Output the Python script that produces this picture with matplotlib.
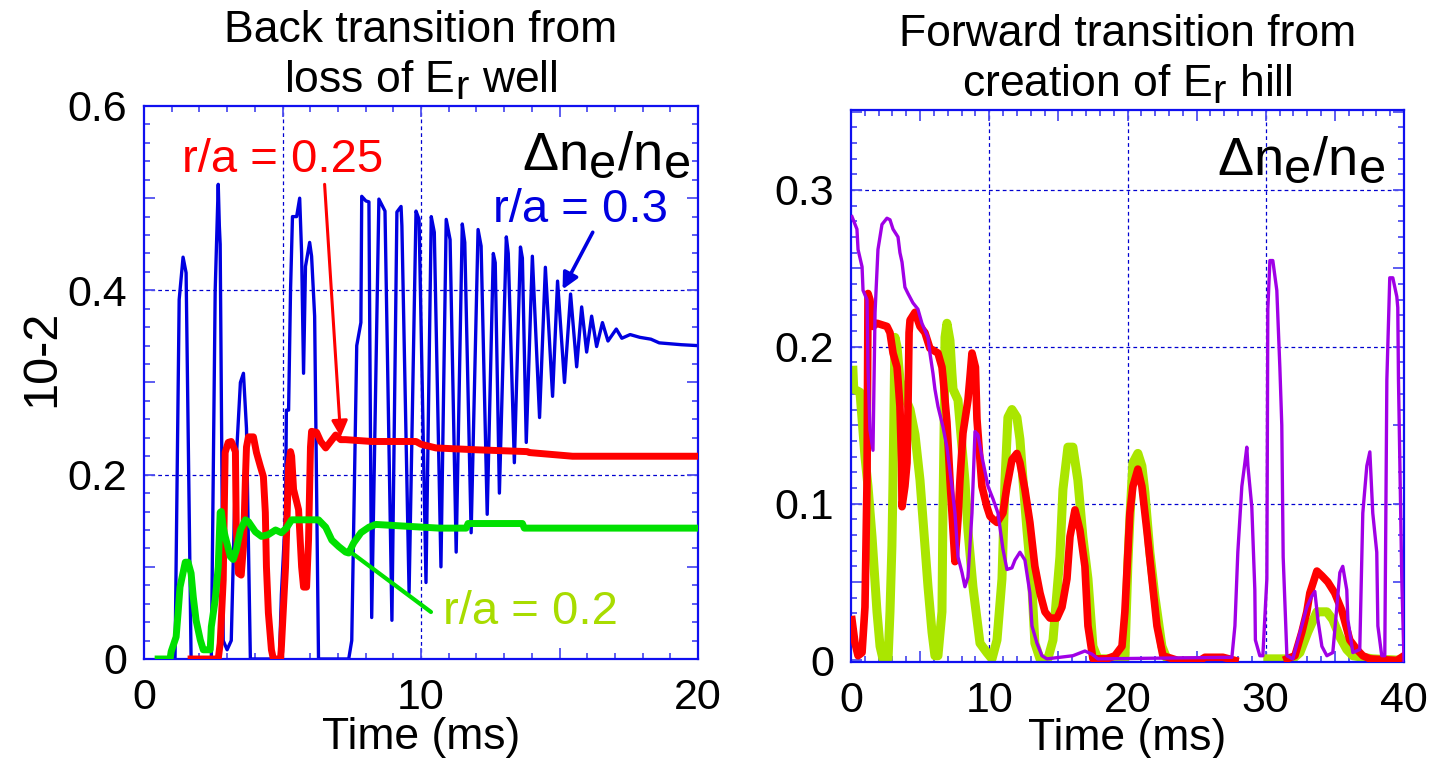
import numpy as np
import matplotlib
matplotlib.use("Agg")
import matplotlib.pyplot as plt
from matplotlib.ticker import MultipleLocator, FuncFormatter
import matplotlib._mathtext as mt

# subscripts in the original are nearly full size
mt.SHRINK_FACTOR = 0.9

plt.rcParams['font.family'] = ['Liberation Sans', 'DejaVu Sans']
plt.rcParams['mathtext.fontset'] = 'custom'
plt.rcParams['mathtext.rm'] = 'Liberation Sans'
plt.rcParams['mathtext.it'] = 'Liberation Sans'
plt.rcParams['mathtext.default'] = 'regular'

# ---- left panel: back transition (time in ms, dn/n in 10^-2) ----
blue_r03 = [
    (0.6, 0), (1.12, 0), (1.27, 0.39), (1.41, 0.436), (1.52, 0.419), (1.70, 0),
    (2.43, 0), (2.57, 0.40), (2.68, 0.515), (2.72, 0.47), (2.75, 0.45), (2.86, 0.02),
    (3.0, 0.01), (3.15, 0.02), (3.30, 0.20), (3.48, 0.30), (3.59, 0.31), (3.70, 0.25),
    (3.84, 0), (4.89, 0), (4.96, 0.07), (5.11, 0.16), (5.14, 0.27), (5.22, 0.27),
    (5.29, 0.40), (5.36, 0.48), (5.51, 0.48), (5.62, 0.50), (5.69, 0.44), (5.76, 0.31),
    (5.83, 0.426), (5.98, 0.452), (6.05, 0.437), (6.16, 0.372), (6.30, 0), (7.39, 0),
    (7.50, 0.02), (7.68, 0.34), (7.83, 0.365), (7.86, 0.502), (8.01, 0.497), (8.12, 0.496),
    (8.22, 0.045), (8.48, 0.499), (8.70, 0.486), (8.95, 0.042), (9.13, 0.485), (9.28, 0.491),
    (9.31, 0.47), (9.57, 0.072), (9.82, 0.486), (9.93, 0.477), (10.18, 0.083),
    (10.37, 0.48), (10.48, 0.463), (10.72, 0.10), (10.91, 0.477), (11.05, 0.455),
    (11.27, 0.116), (11.49, 0.472), (11.58, 0.452), (11.81, 0.137), (12.06, 0.466),
    (12.17, 0.448), (12.39, 0.157), (12.61, 0.44), (12.68, 0.43), (12.83, 0.18),
    (13.08, 0.458), (13.15, 0.44), (13.37, 0.213), (13.59, 0.447), (13.66, 0.435),
    (13.80, 0.235), (14.02, 0.437), (14.28, 0.262), (14.49, 0.425), (14.75, 0.285),
    (14.93, 0.41), (15.18, 0.30), (15.40, 0.396), (15.62, 0.317), (15.80, 0.382),
    (15.98, 0.333), (16.16, 0.372), (16.34, 0.339), (16.55, 0.365), (16.75, 0.345),
    (17.05, 0.358), (17.25, 0.348), (17.55, 0.352), (17.9, 0.349), (18.3, 0.347),
    (18.6, 0.343), (19.4, 0.341), (20.0, 0.34),
]

red_r025 = [
    (1.70, 0), (2.68, 0), (2.75, 0.017), (2.86, 0.086), (2.93, 0.224), (3.04, 0.235),
    (3.15, 0.236), (3.30, 0.225), (3.33, 0.143), (3.41, 0.093), (3.51, 0.091),
    (3.59, 0.122), (3.66, 0.195), (3.70, 0.23), (3.77, 0.241), (3.95, 0.241),
    (4.06, 0.224), (4.20, 0.209), (4.31, 0.198), (4.38, 0.159), (4.42, 0.10),
    (4.49, 0.05), (4.60, 0.01), (4.67, 0), (4.93, 0), (4.96, 0.013), (5.11, 0.10),
    (5.22, 0.209), (5.29, 0.225), (5.33, 0.22), (5.40, 0.184), (5.58, 0.162),
    (5.69, 0.10), (5.76, 0.078), (5.87, 0.078), (5.94, 0.129), (6.01, 0.23),
    (6.05, 0.247), (6.23, 0.246), (6.38, 0.236), (6.56, 0.229), (6.74, 0.236),
    (6.92, 0.243), (7.10, 0.238), (7.28, 0.238), (8.22, 0.236), (9.82, 0.236),
    (10.0, 0.233), (10.54, 0.229), (12.0, 0.227), (13.84, 0.225), (13.91, 0.224),
    (15.47, 0.22), (20.0, 0.22),
]

green_r02 = [
    (0.51, 0), (0.94, 0), (0.98, 0.008), (1.16, 0.024), (1.23, 0.05), (1.30, 0.078),
    (1.49, 0.105), (1.59, 0.105), (1.70, 0.093), (1.78, 0.067), (1.88, 0.042),
    (2.03, 0.021), (2.14, 0.01), (2.39, 0.01), (2.43, 0.035), (2.57, 0.064),
    (2.68, 0.10), (2.75, 0.159), (2.79, 0.16), (2.86, 0.143), (2.93, 0.133),
    (3.12, 0.111), (3.22, 0.108), (3.33, 0.118), (3.48, 0.14), (3.66, 0.151),
    (3.77, 0.149), (4.02, 0.138), (4.24, 0.133), (4.49, 0.135), (4.75, 0.14),
    (4.96, 0.137), (5.14, 0.142), (5.33, 0.151), (6.30, 0.151), (6.56, 0.143),
    (6.78, 0.129), (7.03, 0.122), (7.28, 0.116), (7.39, 0.115), (7.57, 0.126),
    (7.83, 0.137), (8.12, 0.143), (8.37, 0.146), (10.65, 0.142), (11.63, 0.142),
    (11.70, 0.147), (13.66, 0.147), (13.73, 0.142), (20.0, 0.142),
]

# ---- right panel: forward transition ----
purple_fw = [
    (0.07, 0.283), (0.43, 0.275), (0.51, 0.262), (0.80, 0.251), (0.87, 0.236),
    (1.16, 0.230), (1.23, 0.187), (1.37, 0.147), (1.59, 0.134), (1.74, 0.222),
    (1.95, 0.262), (2.24, 0.278), (2.60, 0.282), (2.82, 0.281), (3.04, 0.275),
    (3.40, 0.270), (3.54, 0.260), (3.69, 0.254), (3.90, 0.238), (4.12, 0.234),
    (4.48, 0.228), (4.84, 0.224), (5.13, 0.215), (5.57, 0.206), (5.71, 0.196),
    (5.93, 0.183), (6.07, 0.173), (6.29, 0.162), (6.65, 0.149), (6.94, 0.136),
    (7.30, 0.111), (7.52, 0.094), (7.74, 0.066), (8.03, 0.056), (8.24, 0.047),
    (8.46, 0.053), (8.75, 0.094), (8.97, 0.146), (9.18, 0.144), (9.47, 0.130),
    (9.91, 0.111), (10.27, 0.103), (10.63, 0.094), (10.99, 0.071), (11.28, 0.058),
    (11.64, 0.059), (11.86, 0.064), (12.22, 0.069), (12.58, 0.064), (12.94, 0.043),
    (13.09, 0.022), (13.45, 0.011), (13.81, 0.003), (14.17, 0.001), (16.05, 0.003),
    (16.92, 0.006), (17.43, 0.004), (17.86, 0.001), (27.55, 0.002), (27.77, 0.022),
    (27.98, 0.069), (28.27, 0.111), (28.49, 0.126), (28.63, 0.136), (28.71, 0.124),
    (28.99, 0.098), (29.21, 0.045), (29.25, 0.013), (29.57, 0.003), (29.79, 0.003),
    (30.08, 0.052), (30.15, 0.224), (30.30, 0.255), (30.51, 0.255), (30.80, 0.236),
    (31.02, 0.187), (31.16, 0.15), (31.26, 0.066), (31.53, 0.003), (31.96, 0.001),
    (32.97, 0.034), (33.33, 0.041), (33.55, 0.044), (33.77, 0.026), (34.06, 0.009),
    (34.42, 0.003), (34.85, 0.005), (35.14, 0.034), (35.36, 0.056), (35.57, 0.060),
    (35.86, 0.045), (35.94, 0.026), (36.30, 0.005), (36.80, 0.007), (37.02, 0.094),
    (37.31, 0.124), (37.53, 0.133), (37.74, 0.094), (38.03, 0.069), (38.11, 0.022),
    (38.39, 0.003), (38.61, 0.003), (38.76, 0.179), (38.97, 0.244), (39.19, 0.244),
    (39.48, 0.232), (39.55, 0.225), (39.60, 0.179), (39.84, 0.052), (40.0, 0.0),
]

red_fw = [
    (0.07, 0.026), (0.29, 0.011), (0.51, 0.003), (0.80, 0.005), (1.01, 0.034),
    (1.16, 0.115), (1.23, 0.234), (1.37, 0.230), (1.59, 0.213), (1.88, 0.215),
    (2.60, 0.213), (2.82, 0.209), (3.04, 0.196), (3.33, 0.187), (3.40, 0.179),
    (3.54, 0.162), (3.66, 0.126), (3.69, 0.098), (3.90, 0.111), (4.05, 0.126),
    (4.12, 0.16), (4.20, 0.209), (4.27, 0.217), (4.63, 0.222), (4.99, 0.213),
    (5.35, 0.209), (5.71, 0.199), (6.29, 0.196), (6.58, 0.187), (6.65, 0.181),
    (6.94, 0.152), (7.16, 0.115), (7.38, 0.083), (7.52, 0.063), (7.74, 0.090),
    (7.88, 0.115), (8.10, 0.145), (8.46, 0.166), (8.60, 0.18), (8.75, 0.196),
    (9.0, 0.187), (9.11, 0.154), (9.47, 0.111), (9.83, 0.098), (10.05, 0.092),
    (10.27, 0.090), (10.56, 0.088), (10.99, 0.094), (11.28, 0.111), (11.64, 0.128),
    (12.00, 0.132), (12.22, 0.126), (12.58, 0.109), (12.94, 0.088), (13.30, 0.060),
    (13.67, 0.043), (14.03, 0.031), (14.39, 0.027), (14.90, 0.027), (15.26, 0.034),
    (15.62, 0.052), (15.84, 0.079), (16.20, 0.096), (16.56, 0.083), (16.92, 0.060),
    (17.14, 0.022), (17.50, 0.001), (18.51, 0.001), (19.09, 0.003), (19.60, 0.009),
    (19.81, 0.031), (20.17, 0.094), (20.39, 0.111), (20.75, 0.122), (21.04, 0.111),
    (21.40, 0.083), (21.77, 0.052), (22.13, 0.022), (22.56, 0.003), (23.64, 0.0),
    (25.24, 0.0), (25.60, 0.002), (26.90, 0.002), (27.77, 0.0), (np.nan, np.nan),
    (31.53, 0.001), (32.11, 0.003), (32.61, 0.018), (32.97, 0.031), (33.19, 0.043),
    (33.70, 0.057), (34.06, 0.054), (34.49, 0.050), (34.99, 0.043), (35.50, 0.032),
    (36.08, 0.013), (36.59, 0.007), (37.02, 0.003), (37.53, 0.001), (39.48, 0.0),
    (40.0, 0.003),
]

yg_fw = [
    (0.14, 0.185), (0.20, 0.173), (0.65, 0.171), (0.80, 0.154), (1.01, 0.130),
    (1.23, 0.111), (1.52, 0.079), (1.88, 0.031), (2.10, 0.009), (2.31, 0.001),
    (2.68, 0.001), (2.82, 0.031), (2.96, 0.073), (3.04, 0.115), (3.12, 0.168),
    (3.18, 0.206), (3.33, 0.20), (3.54, 0.179), (3.76, 0.171), (4.27, 0.16),
    (4.63, 0.144), (4.99, 0.115), (5.35, 0.073), (5.57, 0.047), (5.86, 0.018),
    (6.07, 0.003), (6.29, 0.003), (6.58, 0.031), (6.65, 0.094), (6.75, 0.158),
    (6.80, 0.206), (6.94, 0.215), (7.16, 0.204), (7.30, 0.183), (7.38, 0.173),
    (7.74, 0.166), (8.03, 0.136), (8.24, 0.115), (8.46, 0.083), (8.82, 0.047),
    (9.33, 0.011), (9.83, 0.005), (10.20, 0.001), (10.56, 0.013), (10.92, 0.052),
    (11.14, 0.115), (11.35, 0.155), (11.64, 0.160), (12.00, 0.155), (12.22, 0.141),
    (12.44, 0.115), (12.73, 0.083), (13.09, 0.047), (13.30, 0.011), (13.67, 0.001),
    (14.24, 0.001), (14.61, 0.013), (15.11, 0.066), (15.33, 0.109), (15.69, 0.136),
    (16.05, 0.136), (16.41, 0.115), (16.77, 0.079), (17.14, 0.052), (17.50, 0.009),
    (17.86, 0.001), (19.81, 0.001), (20.03, 0.062), (20.17, 0.09), (20.39, 0.126),
    (20.75, 0.132), (21.04, 0.124), (21.26, 0.107), (21.62, 0.069), (21.98, 0.041),
    (22.49, 0.009), (22.85, 0.001), (np.nan, np.nan), (30.15, 0.001), (31.96, 0.001),
    (32.47, 0.005), (33.04, 0.018), (33.70, 0.031), (34.42, 0.031), (34.85, 0.026),
    (35.36, 0.015), (35.86, 0.007), (36.30, 0.003), (37.74, 0.001), (40.0, 0.0),
]

left_grid_x = [5, 10]
left_grid_y = [0.2, 0.4]
right_grid_x = [10, 20, 30]
right_grid_y = [0.1, 0.2, 0.3]

frame_blue = '#1010f0'
tick_blue = '#5050f0'
grid_blue = '#0000d0'
FS = 32


def xy(points):
    arr = np.array(points, dtype=float)
    return arr[:, 0], arr[:, 1]


def every(step, fmt):
    def f(v, pos):
        k = v / step
        if abs(k - round(k)) > 1e-6:
            return ''
        if abs(v) < 1e-9:
            return '0'
        return fmt.format(v)
    return FuncFormatter(f)


def style_axes(ax, xmaj, xlab, ymaj, ymin, ylab, yfmt):
    for s in ax.spines.values():
        s.set_color(frame_blue)
        s.set_linewidth(1.6)
    ax.xaxis.set_major_locator(MultipleLocator(xmaj))
    ax.xaxis.set_minor_locator(MultipleLocator(1))
    ax.yaxis.set_major_locator(MultipleLocator(ymaj))
    ax.yaxis.set_minor_locator(MultipleLocator(ymin))
    ax.xaxis.set_major_formatter(every(xlab, '{:g}'))
    ax.yaxis.set_major_formatter(every(ylab, yfmt))
    ax.tick_params(which='both', direction='in', top=True, right=True,
                   color=tick_blue, width=1.3, labelsize=31)
    ax.tick_params(which='major', length=8)
    ax.tick_params(which='minor', length=4)
    ax.tick_params(axis='x', pad=14)
    ax.tick_params(axis='y', pad=12)


def grid(ax, gx, gy):
    for g in gx:
        ax.axvline(g, color=grid_blue, lw=0.9, ls=(0, (3, 2.5)), zorder=0.5)
    for g in gy:
        ax.axhline(g, color=grid_blue, lw=0.9, ls=(0, (3, 2.5)), zorder=0.5)


fig = plt.figure(figsize=(14.33, 7.58), dpi=100)
ax1 = fig.add_axes([144 / 1433, 1 - 659 / 758, 554 / 1433, 553 / 758])
ax2 = fig.add_axes([851 / 1433, 1 - 662 / 758, 553 / 1433, 552 / 758])

# left panel
t, v = xy(blue_r03)
ax1.plot(t, v, color='#0000e0', lw=2.4, zorder=2)
t, v = xy(red_r025)
ax1.plot(t, v, color='#ff0000', lw=5, zorder=3)
t, v = xy(green_r02)
ax1.plot(t, v, color='#00e000', lw=5, zorder=4)
ax1.set_xlim(0, 20)
ax1.set_ylim(0, 0.6)
grid(ax1, left_grid_x, left_grid_y)
style_axes(ax1, 5, 10, 0.1, 0.02, 0.2, '{:.1f}')

ax1.text(0.5, 1.007, 'Back transition from\nloss of E$_r$ well', transform=ax1.transAxes,
         ha='center', va='bottom', fontsize=FS, linespacing=1.22)
ax1.set_xlabel('Time (ms)', fontsize=FS)
ax1.xaxis.set_label_coords(0.5, -0.105)
fig.text(42 / 1433, 1 - 358 / 758, '10-2', rotation=90, ha='center', va='center',
         fontsize=35)

ax1.text(0.985, 0.911, 'Δn$_e$/n$_e$', transform=ax1.transAxes, ha='right',
         va='center', fontsize=39, color='black')
ax1.text(0.251, 0.902, 'r/a = 0.25', transform=ax1.transAxes, ha='center',
         va='center', fontsize=34, color='#ff0000')
ax1.text(0.946, 0.812, 'r/a = 0.3', transform=ax1.transAxes, ha='right',
         va='center', fontsize=34, color='#0000e0')
ax1.text(0.54, 0.085, 'r/a = 0.2', transform=ax1.transAxes, ha='left',
         va='center', fontsize=34, color='#a8dc00')
ax1.annotate('', xy=(7.10, 0.241), xytext=(6.52, 0.515),
             arrowprops=dict(arrowstyle='-|>', color='#ff0000', lw=2.2,
                             mutation_scale=24, shrinkA=0, shrinkB=0), zorder=5)
ax1.annotate('', xy=(15.11, 0.401), xytext=(16.2, 0.463),
             arrowprops=dict(arrowstyle='-|>', color='#0000e0', lw=2.6,
                             mutation_scale=24, shrinkA=0, shrinkB=0), zorder=5)
ax1.annotate('', xy=(7.46, 0.116), xytext=(10.36, 0.051),
             arrowprops=dict(arrowstyle='-', color='#00e000', lw=3,
                             shrinkA=0, shrinkB=0), zorder=5)

# right panel
t, v = xy(yg_fw)
ax2.plot(t, v, color='#aae600', lw=6.5, zorder=2)
t, v = xy(red_fw)
ax2.plot(t, v, color='#ff0000', lw=5.5, zorder=3)
t, v = xy(purple_fw)
ax2.plot(t, v, color='#a000e6', lw=2.4, zorder=4)
ax2.set_xlim(0, 40)
ax2.set_ylim(-0.001, 0.351)
grid(ax2, right_grid_x, right_grid_y)
style_axes(ax2, 5, 10, 0.05, 0.01, 0.1, '{:.1f}')

ax2.text(0.5, 1.007, 'Forward transition from\ncreation of E$_r$ hill', transform=ax2.transAxes,
         ha='center', va='bottom', fontsize=FS, linespacing=1.22)
ax2.set_xlabel('Time (ms)', fontsize=FS)
ax2.xaxis.set_label_coords(0.5, -0.101)
ax2.text(0.966, 0.909, 'Δn$_e$/n$_e$', transform=ax2.transAxes, ha='right',
         va='center', fontsize=39, color='black')

fig.savefig('out.png', dpi=100)
